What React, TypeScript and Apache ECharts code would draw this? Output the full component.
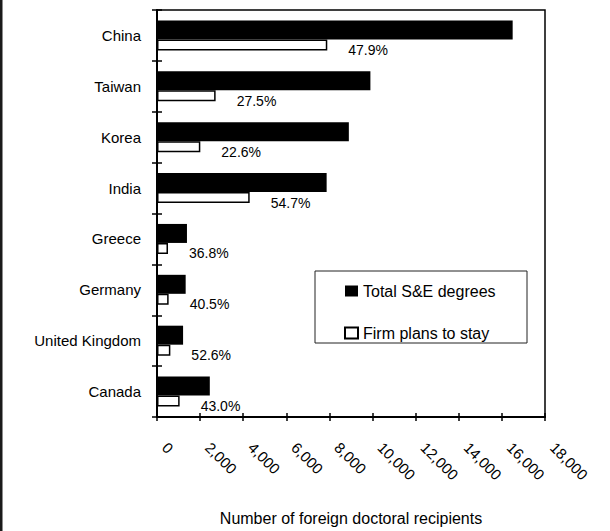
import React, { useEffect, useRef } from "react";
import * as echarts from "echarts";

const categories = ["China", "Taiwan", "Korea", "India", "Greece", "Germany", "United Kingdom", "Canada"];
const totalDegrees = [16500, 9900, 8900, 7870, 1390, 1330, 1210, 2450];
const firmPlans = [7900, 2720, 2010, 4300, 510, 540, 620, 1050];
const stayShares = ["47.9%", "27.5%", "22.6%", "54.7%", "36.8%", "40.5%", "52.6%", "43.0%"];
const xMin = 0;
const xMax = 18000;
const xStep = 2000;
const seriesNames = ["Total S&E degrees", "Firm plans to stay"];
const axisTitle = "Number of foreign doctoral recipients";

const FONT = "'Liberation Sans', Arial, Helvetica, sans-serif";

export default function App() {
  const ref = useRef<HTMLDivElement>(null);
  useEffect(() => {
    document.body.style.margin = "0";
    const chart = echarts.init(ref.current!, null, { renderer: "svg" });
    const fmt = (v: number) => v.toLocaleString("en-US");
    chart.setOption({
      animation: false,
      backgroundColor: "#fff",
      textStyle: { fontFamily: FONT, color: "#000" },
      grid: {
        left: 157,
        top: 10,
        width: 388,
        height: 411,
        show: true,
        borderColor: "#000",
        borderWidth: 1.5,
        backgroundColor: "transparent",
      },
      legend: {
        orient: "vertical",
        left: 344,
        top: 281,
        padding: 0,
        itemWidth: 13,
        itemHeight: 11,
        itemGap: 22,
        icon: "rect",
        textStyle: { fontFamily: FONT, fontSize: 16, color: "#000", lineHeight: 20 },
        data: [
          { name: seriesNames[0], itemStyle: { color: "#000", borderWidth: 0 } },
          { name: seriesNames[1], itemStyle: { color: "#fff", borderColor: "#000", borderWidth: 2 } },
        ],
      },
      xAxis: [
        {
          type: "value",
          position: "bottom",
          min: xMin,
          max: xMax,
          interval: xStep,
          name: axisTitle,
          nameLocation: "middle",
          nameGap: 93,
          nameTextStyle: { fontFamily: FONT, fontSize: 16, color: "#000" },
          axisLine: { show: true, onZero: false, lineStyle: { color: "#000", width: 2 } },
          axisTick: { show: true, inside: false, length: 4, lineStyle: { color: "#000", width: 1.5 } },
          axisLabel: {
            rotate: -45,
            margin: 20,
            padding: [0, 0, 0, 11],
            fontFamily: FONT,
            fontSize: 15,
            color: "#000",
            formatter: fmt,
          },
          splitLine: { show: false },
        },
        {
          type: "value",
          position: "bottom",
          min: xMin,
          max: xMax,
          interval: xStep,
          axisLine: { show: false },
          axisTick: { show: true, inside: true, length: 4, lineStyle: { color: "#000", width: 1.5 } },
          axisLabel: { show: false },
          splitLine: { show: false },
        },
      ],
      yAxis: [
        {
          type: "category",
          data: categories,
          inverse: true,
          position: "left",
          axisLine: { show: true, lineStyle: { color: "#000", width: 2 } },
          axisTick: { show: true, inside: false, length: 5, lineStyle: { color: "#000", width: 1.5 } },
          axisLabel: { margin: 16, fontFamily: FONT, fontSize: 15, color: "#000" },
          splitLine: { show: false },
        },
        {
          type: "category",
          data: categories,
          inverse: true,
          position: "left",
          axisLine: { show: false },
          axisTick: { show: true, inside: true, length: 5, lineStyle: { color: "#000", width: 1.5 } },
          axisLabel: { show: false },
          splitLine: { show: false },
        },
      ],
      series: [
        {
          name: seriesNames[0],
          type: "bar",
          data: totalDegrees,
          barWidth: 19,
          barGap: "0%",
          itemStyle: { color: "#000" },
          z: 3,
        },
        {
          name: seriesNames[1],
          type: "bar",
          data: firmPlans,
          barWidth: 11,
          barGap: "0%",
          itemStyle: { color: "#fff", borderColor: "#000", borderWidth: 1.5 },
          label: {
            show: true,
            position: "right",
            distance: 5,
            offset: [16, 5],
            fontFamily: FONT,
            fontSize: 14,
            color: "#000",
            formatter: (p: any) => stayShares[p.dataIndex],
          },
          z: 2,
        },
      ],
      graphic: [
        {
          type: "rect",
          left: 0,
          top: 0,
          shape: { width: 2.5, height: 531 },
          style: { fill: "#1a1a1a" },
        },
        {
          type: "rect",
          z: 0,
          shape: { x: 315, y: 271, width: 212, height: 72 },
          style: { fill: "#fff", stroke: "#222", lineWidth: 1 },
        },
      ],
    });
    return () => chart.dispose();
  }, []);
  return <div ref={ref} style={{ width: 610, height: 531 }} />;
}
